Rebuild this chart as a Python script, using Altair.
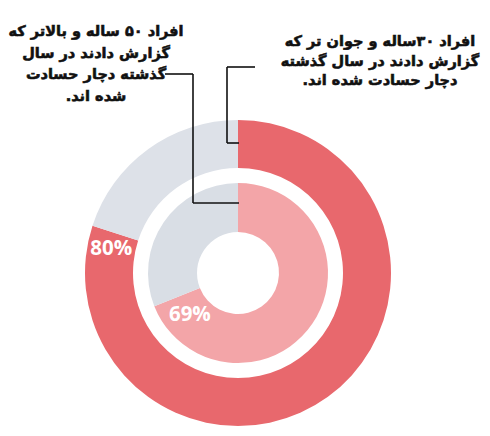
import altair as alt
import pandas as pd

# ---- data ----
outer_parts = ["outer_yes", "outer_no"]
outer_values = [80, 20]
inner_parts = ["inner_yes", "inner_no"]
inner_values = [69, 31]
outer_label = "80%"
inner_label = "69%"

RLM = "\u200f"
left_note = ["افراد ۵۰ ساله و بالاتر که", "گزارش دادند در سال", "گذشته دچار حسادت", "شده اند." + RLM]
right_note = ["افراد ۳۰ساله و جوان تر که", "گزارش دادند در سال گذشته", "دچار حسادت شده اند." + RLM]

# ---- style / layout ----
W, H = 490, 436
CX, CY = 238, 273
color_domain = outer_parts + inner_parts
color_range = ["#E8686D", "#DDE1E8", "#F3A5A8", "#D9DEE5"]

def ring(parts, values, r_out, r_in):
    df = pd.DataFrame({"part": parts, "value": values, "ord": list(range(len(parts)))})
    return alt.Chart(df).mark_arc(radius=r_out, radius2=r_in).encode(
        theta=alt.Theta("value:Q", stack=True, scale=alt.Scale(domain=[0, 100])),
        color=alt.Color("part:N", scale=alt.Scale(domain=color_domain, range=color_range), legend=None),
        order=alt.Order("ord:Q"),
        x=alt.value(CX), y=alt.value(CY),
    )

outer = ring(outer_parts, outer_values, 153, 105)
inner = ring(inner_parts, inner_values, 90, 41)

def pct(label, theta, r):
    df = pd.DataFrame({"t": [label]})
    return alt.Chart(df).mark_text(font="Open Sans", fontWeight="bold", fontSize=20.5,
                                   color="white", align="center", baseline="middle").encode(
        text="t:N", x=alt.value(CX), y=alt.value(CY),
        theta=alt.value(theta), radius=alt.value(r))

lab1 = pct(outer_label, 4.899, 129)
lab2 = pct(inner_label, 3.993, 64)

def note(lines, x, y, lh):
    df = pd.DataFrame({"k": [0]})
    return alt.Chart(df).mark_text(font="DejaVu Sans", fontWeight="bold", fontSize=14.5,
                                   color="#111111", stroke="#111111", strokeWidth=0.6,
                                   align="center", baseline="top",
                                   lineHeight=lh).encode(
        text=alt.value(lines), x=alt.value(x), y=alt.value(y))

n1 = note(left_note, 96, 25, 21.5)
n2 = note(right_note, 380, 35, 19.5)

def seg(x1, y1, x2, y2):
    df = pd.DataFrame({"k": [0]})
    return alt.Chart(df).mark_rule(color="#111111", strokeWidth=1.6).encode(
        x=alt.value(x1), y=alt.value(y1), x2=alt.value(x2), y2=alt.value(y2))

lines = [
    seg(165, 74, 193, 74), seg(193, 74, 193, 203), seg(193, 203, 239, 203),
    seg(255, 67, 227, 67), seg(227, 67, 227, 143), seg(227, 143, 239, 143),
]

chart = alt.layer(outer, inner, lab1, lab2, n1, n2, *lines).properties(
    width=W, height=H, padding=0, autosize=alt.AutoSizeParams(type="none"),
    background="white",
).configure_view(stroke=None)

chart.save("out.html", embed_options={"renderer": "svg", "actions": False})
